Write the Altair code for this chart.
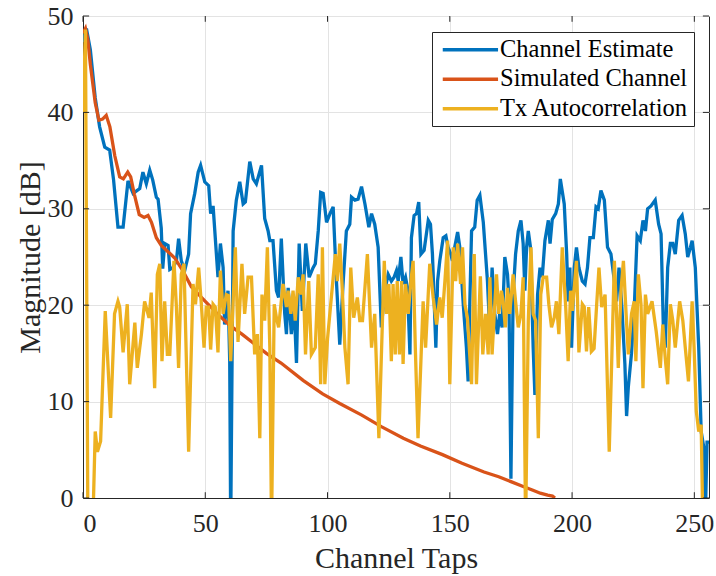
import altair as alt
import pandas as pd

series_names = ["Channel Estimate", "Simulated Channel", "Tx Autocorrelation"]
series_colors = ["#0072BD", "#D95319", "#EDB120"]
x_ticks = [0, 50, 100, 150, 200, 250]
y_ticks = [0, 10, 20, 30, 40, 50]
x_domain = [0, 256]
y_domain = [0, 50]

# Channel Estimate (x, dB)
est_pts = [
    (0, 47.3), (1.4, 48.7), (3, 46.5), (5, 41.5), (6.8, 38.5), (8.9, 36.4), (10.9, 36.1),
    (12.5, 33.0), (14.3, 28.1), (16.4, 28.1), (18.4, 32.9), (20.5, 31.6), (23.2, 32.1),
    (24.5, 33.8), (25.9, 32.6), (27.3, 34.0), (28.5, 33.0), (30.0, 31.2), (30.7, 31.0),
    (32.0, 28.0), (32.6, 23.8), (33.4, 26.4), (34.8, 26.2), (35.5, 23.7), (36.8, 23.9),
    (38.2, 24.6), (39.1, 26.9), (40.2, 24.6), (41.6, 23.6), (43.2, 25.3), (44.0, 29.5),
    (45.7, 31.6), (47.1, 33.8), (48.1, 34.5), (49.8, 32.8), (51.4, 32.4), (52.2, 29.5),
    (53.2, 30.3), (55.2, 22.9), (56.2, 26.4), (57.3, 23.9), (57.9, 18.0), (59.3, 21.5),
    (60.0, 14.2), (60.4, -3), (61.4, 27.7), (62.7, 30.9), (64.1, 32.8), (65.5, 30.5),
    (66.4, 30.7), (68.2, 34.9), (69.6, 33.1), (70.9, 32.6), (73.0, 34.5), (74.3, 29.0),
    (75.7, 27.7), (76.4, 26.7), (77.7, 26.7), (79.1, 21.5), (80.0, 20.8), (81.1, 26.9),
    (82.5, 19.1), (83.2, 17.0), (83.9, 21.8), (85.2, 17.0), (86.3, 20.1), (87.3, 14.0),
    (88.4, 26.4), (89.7, 19.4), (91.1, 26.4), (92.5, 22.9), (94.1, 23.9), (95.0, 24.3),
    (96.2, 27.7), (97.2, 31.7), (98.2, 31.6), (99.6, 28.6), (101.0, 29.5), (102.3, 30.2),
    (103.7, 22.2), (105.0, 15.9), (106.3, 22.0), (107.7, 27.7), (109.1, 28.4), (109.8, 31.2),
    (111.2, 30.9), (112.5, 31.0), (113.9, 32.3), (115.3, 30.5), (116.9, 28.1), (118.0, 29.5),
    (119.3, 28.4), (120.7, 26.0), (122.0, 17.7), (123.4, 21.5), (124.8, 23.2), (126.1, 22.5),
    (127.2, 22.9), (128.2, 23.6), (128.9, 22.5), (130.0, 25.0), (130.9, 22.2), (131.9, 22.9),
    (132.7, 21.8), (133.7, 14.9), (134.3, 27.0), (135.4, 29.3), (136.4, 29.5), (137.3, 30.7),
    (138.2, 25.3), (139.5, 25.7), (141.2, 28.8), (142.1, 28.4), (142.9, 25.3), (144.3, 15.6),
    (145.0, 22.5), (145.9, 24.6), (147.3, 27.0), (148.4, 27.2), (149.3, 26.0), (150.4, 25.3),
    (151.1, 24.6), (152.0, 26.0), (153.2, 27.6), (154.1, 26.0), (155.5, 20.1), (156.8, 15.6),
    (157.5, 12.1), (158.2, 20.4), (158.9, 27.7), (160.2, 28.1), (161.2, 30.9), (162.3, 31.4),
    (163.7, 28.6), (165.4, 22.5), (166.4, 17.0), (167.3, 23.9), (168.4, 19.1), (169.5, 17.0),
    (170.4, 19.1), (171.4, 17.7), (172.5, 25.0), (173.6, 23.2), (174.2, 20.4), (175.0, 2.0),
    (175.9, 21.1), (176.9, 25.3), (178.0, 27.7), (179.1, 28.8), (180.0, 26.4), (180.7, 21.5),
    (181.4, 26.0), (182.1, 27.7), (183.0, 26.0), (184.1, 15.6), (184.8, 10.7), (185.9, 21.1),
    (186.9, 23.9), (187.8, 22.9), (188.9, 26.7), (190.3, 28.8), (191.0, 26.4), (191.9, 28.9),
    (193.3, 29.5), (194.4, 30.5), (195.2, 33.1), (196.8, 30.5), (197.8, 25.3), (198.4, 20.4),
    (199.1, 23.9), (199.8, 15.6), (200.9, 23.9), (201.8, 26.0), (202.8, 23.9), (204.2, 22.5),
    (205.3, 22.2), (206.3, 23.9), (207.3, 27.0), (208.7, 27.0), (209.8, 30.2), (210.7, 30.0),
    (211.8, 31.9), (213.2, 30.9), (214.5, 26.0), (215.9, 25.3), (217.3, 22.5), (218.2, 20.4),
    (219.2, 23.9), (220.3, 20.1), (221.6, 13.9), (222.3, 8.5), (223.0, 11.5), (224.3, 15.0),
    (225.5, 20.1), (226.6, 27.2), (227.9, 26.7), (229.0, 28.8), (230.0, 27.7), (230.9, 30.0),
    (232.3, 30.3), (234.0, 30.9), (235.4, 28.4), (236.4, 27.4), (237.4, 17.0), (238.1, 15.6),
    (239.1, 23.9), (240.2, 26.4), (241.2, 26.4), (242.2, 25.3), (243.6, 28.8), (245.0, 29.3),
    (246.3, 27.4), (247.3, 25.0), (248.4, 26.0), (249.1, 26.7), (250.4, 23.9), (251.8, 15.6),
    (252.8, 6.9), (253.9, 5.2), (254.5, -2), (255.2, 5.8), (256.0, 5.8),
]

# Simulated Channel (x, dB)
sim_pts = [
    (0, 48.2), (1, 48.7), (2, 47.5), (3, 45.0), (4, 43.0), (5, 41.0), (6.5, 39.2), (8, 39.3),
    (9.5, 39.7), (11, 38.5), (13, 35.5), (15, 33.3), (16.5, 33.1), (18.3, 33.8), (19.5, 33.3),
    (21, 31.5), (23, 29.4), (25, 29.1), (26.6, 29.3), (28, 28.6), (30, 27.0), (32, 26.2),
    (35, 25.5), (37.5, 24.9), (41, 23.5), (44.3, 21.9), (50, 20.4), (55, 19.1), (60, 17.9),
    (65, 17.0), (70, 16.0), (75, 15.0), (81, 14.0), (90, 12.2), (98, 10.8), (105, 9.8),
    (114, 8.6), (122, 7.4), (131, 6.2), (138, 5.4), (147, 4.5), (155, 3.6), (164, 2.7),
    (170, 2.2), (175, 1.7), (180, 1.2), (184, 0.8), (187, 0.5), (190, 0.3), (192, 0.2), (193, 0.0),
]

# Tx Autocorrelation (x, dB)
tx_pts = [
    (0, 40.0), (1, 48.6), (2, -3), (4, -3), (5, 6.9), (5.9, 4.8), (7.2, 5.9), (9.1, 19.4),
    (11.3, 8.3), (12.9, 19.1), (14.3, 20.4), (15.0, 19.8), (16.4, 15.1), (18.1, 20.1),
    (19.1, 11.8), (21.2, 18.2), (22.2, 13.5), (23.9, 17.0), (25.2, 20.4), (27.0, 18.7),
    (27.9, 21.3), (29.3, 11.4), (30.4, 23.2), (31.4, 24.3), (32.3, 14.2), (33.4, 20.4),
    (34.5, 14.9), (35.5, 14.9), (37.2, 24.6), (38.2, 19.8), (39.1, 13.5), (40.2, 23.2),
    (41.3, 24.3), (43.2, 4.8), (45.0, 22.2), (46.0, 20.1), (47.3, 23.9), (48.4, 20.1),
    (49.5, 15.6), (50.4, 19.8), (51.4, 19.8), (52.2, 15.4), (53.2, 20.1), (54.1, 19.8),
    (55.2, 15.1), (56.2, 23.6), (57.3, 19.1), (58.6, 21.1), (59.5, 21.0), (60.4, 14.2),
    (62.3, 26.0), (63.4, 16.2), (65.0, 24.3), (66.1, 19.1), (67.5, 22.9), (68.9, 22.9),
    (70.2, 14.9), (71.3, 17.0), (72.3, 6.2), (73.2, 21.1), (74.3, 18.4), (75.4, 26.0),
    (76.4, 15.6), (77.1, -3), (78.2, 20.1), (79.1, 18.7), (80.0, 17.7), (81.8, 22.2),
    (83.2, 19.8), (83.9, 21.5), (85.0, 19.1), (85.9, 21.5), (86.8, 18.4), (88.0, 22.9),
    (89.1, 21.1), (90.0, 23.2), (91.0, 14.9), (92.3, 22.5), (93.4, 14.9), (95.0, 15.6),
    (96.2, 23.2), (97.2, 11.8), (97.9, 26.0), (98.9, 11.8), (100.0, 16.5), (101.3, 20.1),
    (103.2, 25.3), (104.0, 22.5), (105.0, 26.4), (106.0, 21.8), (107.1, 15.6), (108.4, 11.8),
    (109.5, 23.9), (110.7, 18.7), (112.2, 20.8), (113.2, 18.4), (114.3, 18.4), (116.3, 25.3),
    (118.0, 15.6), (119.3, 19.1), (121.0, 6.2), (123.2, 24.6), (124.1, 19.1), (125.1, 22.2),
    (126.1, 14.2), (126.8, 22.2), (127.7, 14.9), (128.5, 22.5), (129.4, 14.9), (130.3, 22.5),
    (130.9, 13.9), (131.9, 22.2), (133.0, 19.1), (134.1, 22.5), (135.0, 24.6), (135.9, 15.6),
    (137.0, 6.2), (139.1, 20.4), (140.1, 15.6), (141.8, 24.3), (143.2, 20.8), (144.6, 18.0),
    (145.9, 20.8), (146.9, 18.7), (148.0, 22.5), (149.1, 26.7), (150.0, 11.8), (151.4, 26.0),
    (152.4, 22.5), (153.2, 26.4), (154.4, 22.2), (155.2, 26.0), (156.2, 20.1), (157.2, 18.7),
    (158.9, 11.8), (160.0, 25.3), (160.9, 11.8), (162.5, 23.0), (163.5, 14.9), (164.6, 19.1),
    (165.7, 14.9), (166.4, 22.9), (167.3, 14.9), (168.4, 20.1), (169.1, 23.2), (170.0, 19.1),
    (171.1, 21.5), (171.8, 20.4), (172.7, 17.7), (173.6, 21.8), (174.5, 19.1), (175.9, 23.2),
    (176.9, 20.4), (178.0, 17.7), (179.1, 19.1), (180.0, 22.9), (181.0, -3), (182.1, 18.4),
    (183.2, 26.0), (184.1, 19.1), (185.1, 18.4), (186.2, 6.2), (187.2, 21.1), (188.2, 22.9),
    (189.6, 22.9), (190.5, 20.1), (191.6, 17.7), (192.7, 18.7), (193.6, 20.4), (194.6, 17.0),
    (196.0, 26.0), (197.4, 19.8), (198.4, 14.2), (199.4, 21.5), (200.1, 19.4), (201.8, 24.6),
    (202.8, 15.1), (204.2, 20.1), (205.0, 19.8), (205.9, 15.2), (206.8, 19.8), (207.9, 15.2),
    (209.0, 15.5), (210.0, 19.8), (211.0, 23.9), (212.1, 19.8), (213.5, 21.1), (214.5, 11.4),
    (215.2, 4.8), (216.3, 15.0), (217.3, 24.6), (218.2, 19.1), (218.9, 13.5), (220.0, 21.5),
    (221.0, 24.6), (222.1, 19.1), (223.0, 14.9), (224.3, 19.1), (225.4, 20.4), (226.1, 14.2),
    (227.1, 23.2), (228.2, 20.1), (229.0, 11.4), (230.0, 21.1), (230.9, 19.1), (232.7, 20.4),
    (234.4, 17.3), (236.1, 13.5), (237.1, 18.0), (238.1, 14.5), (239.1, 11.8), (240.2, 20.1),
    (241.2, 18.4), (242.2, 15.6), (244.0, 20.4), (245.3, 18.4), (246.3, 15.6), (247.6, 12.1),
    (249.1, 20.4), (249.9, 15.6), (250.8, 9.0), (251.8, 6.9), (252.8, 7.6), (253.5, -3),
    (254.0, -3),
]

AXIS_COLOR = "#262626"
X_TICK_LEN = 2.5   # in taps (inward tick marks)
Y_TICK_LEN = 0.6   # in dB


def frame(pts, name):
    return pd.DataFrame({"x": [p[0] for p in pts], "y": [p[1] for p in pts], "series": name})


x_scale = alt.Scale(domain=x_domain, nice=False, zero=False)
y_scale = alt.Scale(domain=y_domain, nice=False, zero=False)
x_enc = alt.X("x:Q", scale=x_scale, axis=alt.Axis(values=x_ticks, title="Channel Taps"))
y_enc = alt.Y("y:Q", scale=y_scale, axis=alt.Axis(values=y_ticks, title="Magnitude [dB]"))

color_scale = alt.Scale(domain=series_names, range=series_colors)
legend = alt.Legend(
    title=None,
    orient="none",
    legendX=349,
    legendY=16,
    symbolType="M-1,0H6.9",
    symbolSize=196,
    symbolStrokeWidth=3.3,
    labelOffset=38,
    labelFont="Liberation Serif",
    labelFontSize=24.5,
    labelColor="#000000",
    labelLimit=400,
    strokeColor=AXIS_COLOR,
    fillColor="#ffffff",
    padding=5.5,
    rowPadding=4.5,
)


def layer(pts, name):
    return alt.Chart(frame(pts, name)).mark_line(clip=True, strokeWidth=3.3).encode(
        x=x_enc,
        y=y_enc,
        color=alt.Color("series:N", scale=color_scale, legend=legend),
    )


# inward tick marks (MATLAB style) built from the tick arrays
xt = pd.DataFrame({"x": x_ticks})
yt = pd.DataFrame({"y": y_ticks})
tick_bottom = alt.Chart(xt).mark_rule(color=AXIS_COLOR, strokeWidth=1).encode(
    x=x_enc, y=alt.datum(y_domain[0]), y2=alt.datum(y_domain[0] + Y_TICK_LEN)
)
tick_top = alt.Chart(xt).mark_rule(color=AXIS_COLOR, strokeWidth=1).encode(
    x=x_enc, y=alt.datum(y_domain[1]), y2=alt.datum(y_domain[1] - Y_TICK_LEN)
)
tick_left = alt.Chart(yt).mark_rule(color=AXIS_COLOR, strokeWidth=1).encode(
    y=y_enc, x=alt.datum(x_domain[0]), x2=alt.datum(x_domain[0] + X_TICK_LEN)
)
tick_right = alt.Chart(yt).mark_rule(color=AXIS_COLOR, strokeWidth=1).encode(
    y=y_enc, x=alt.datum(x_domain[1]), x2=alt.datum(x_domain[1] - X_TICK_LEN)
)

chart = (
    alt.layer(
        layer(est_pts, series_names[0]),
        layer(sim_pts, series_names[1]),
        layer(tx_pts, series_names[2]),
        tick_bottom,
        tick_top,
        tick_left,
        tick_right,
    )
    .properties(
        width=626,
        height=482,
        padding={"left": 83, "top": 16, "right": 7, "bottom": 78},
        autosize=alt.AutoSizeParams(type="none"),
        background="#ffffff",
    )
    .configure_view(stroke=AXIS_COLOR, strokeWidth=1)
    .configure_axis(
        labelFont="Liberation Serif",
        labelFontSize=26,
        labelColor=AXIS_COLOR,
        titleFont="Liberation Serif",
        titleFontSize=30,
        titleFontWeight="normal",
        titleColor=AXIS_COLOR,
        gridColor="#e3e3e3",
        gridWidth=1,
        domainColor=AXIS_COLOR,
        ticks=False,
    )
    .configure_axisX(labelPadding=12, titlePadding=7)
    .configure_axisY(labelPadding=10, titlePadding=2)
)

chart.save("out.html", embed_options={"renderer": "svg", "actions": False})
